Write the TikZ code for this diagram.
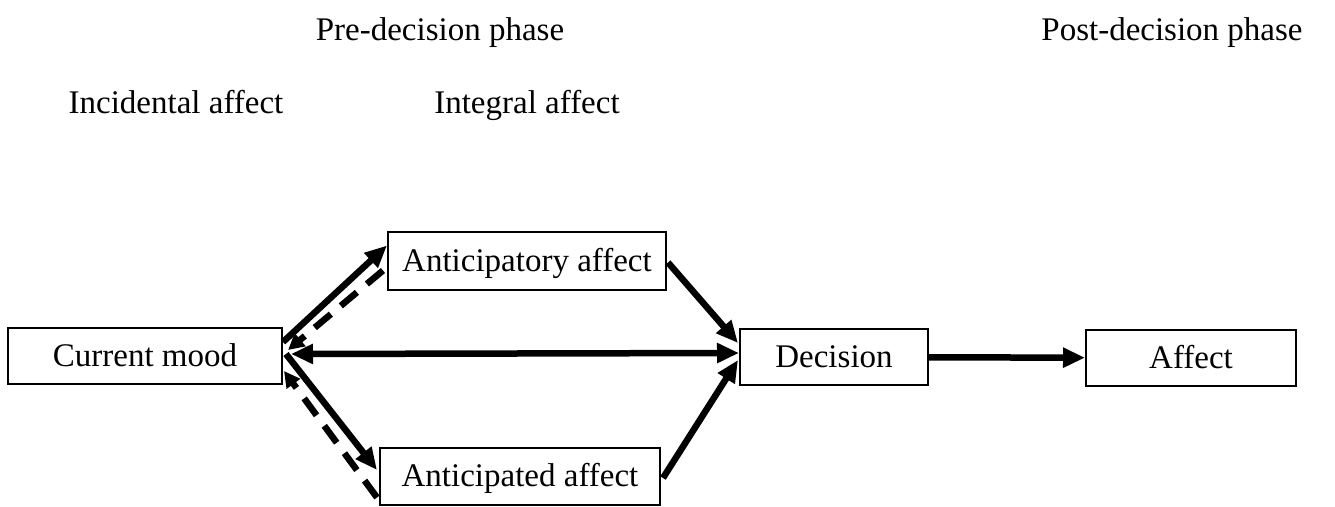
\documentclass[tikz,border=0pt]{standalone}
\usepackage{fontspec}
\setmainfont{Liberation Serif}
\usepackage{tikz}
\usetikzlibrary{arrows.meta,positioning,calc}

\begin{document}
\begin{tikzpicture}[x=1pt, y=-1pt, >={Triangle[length=22pt,width=19pt]},
  font=\fontsize{33}{40}\selectfont, every node/.style={text height=25pt,text depth=4pt}]
\tikzstyle{box}=[draw=black,line width=2pt,inner sep=0pt]
\tikzstyle{link}=[->,line width=6.5pt]
\tikzstyle{back}=[->,line width=6.5pt,dash pattern=on 21pt off 13pt,>={Triangle[length=16pt,width=16pt]}]
\useasboundingbox (0,0) rectangle (1335,506);
% headings
\node (pre)  at (440,30)  {Pre-decision phase};
\node (post) at (1172,30) {Post-decision phase};
\node (inc)  at (176,103) {Incidental affect};
\node (int)  at (527,103) {Integral affect};
% boxes
\node[box,minimum width=274pt,minimum height=56pt] (mood) at (145,356)   {Current mood};
\node[box,minimum width=278pt,minimum height=58pt] (ant)  at (527,260.5) {Anticipatory affect};
\node[box,minimum width=280pt,minimum height=57pt] (antd) at (520,476)   {Anticipated affect};
\node[box,minimum width=188pt,minimum height=56pt] (dec)  at (834,357)   {Decision};
\node[box,minimum width=210pt,minimum height=56pt] (aff)  at (1191,358)  {Affect};
% arrows
\path
($(mood.north east)+(0,15)$)  edge[link]    ($(ant.west)+(0,-15)$)
($(ant.west)+(-4,10)$)        edge[back]    ($(mood.east)+(5,-6)$)
($(mood.east)+(8,-2)$)        edge[link,<->] ($(dec.west)+(0,-4)$)
($(mood.east)+(3,-2)$)        edge[link]    ($(antd.west)+(-2,-6)$)
($(antd.south west)+(-2,-8)$) edge[back]    ($(mood.south east)+(1,-14)$)
($(ant.east)+(1,2)$)          edge[link]    ($(dec.west)+(-1,-14)$)
($(antd.east)+(2,2)$)         edge[link]    ($(dec.west)+(-1,3)$)
(dec)                         edge[link]    (aff);
\end{tikzpicture}
\end{document}
